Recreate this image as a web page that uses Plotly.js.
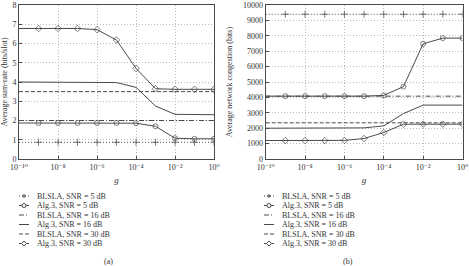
<!DOCTYPE html>
<html><head><meta charset="utf-8">
<script src="https://cdn.plot.ly/plotly-3.0.1.min.js"></script>
<style>html,body{margin:0;padding:0;background:#fff}</style>
</head><body><div id="chart" style="width:469px;height:266px"></div>
<script>
// ---- data ----
const g = [1e-10, 1e-9, 1e-8, 1e-7, 1e-6, 1e-5, 1e-4, 1e-3, 1e-2, 1e-1, 1e0];
const seriesNames = ['BLSLA, SNR = 5 dB', 'Alg.3, SNR = 5 dB', 'BLSLA, SNR = 16 dB',
                     'Alg.3, SNR = 16 dB', 'BLSLA, SNR = 30 dB', 'Alg.3, SNR = 30 dB'];
// (a) average sum-rate (bits/slot)
const rateBLSLA5  = [0.87, 0.87, 0.87, 0.87, 0.87, 0.87, 0.87, 0.87, 0.87, 0.87, 0.87];
const rateAlg5    = [1.87, 1.87, 1.87, 1.87, 1.87, 1.87, 1.86, 1.70, 1.08, 1.05, 1.05];
const rateBLSLA16 = [2.0, 2.0, 2.0, 2.0, 2.0, 2.0, 2.0, 2.0, 2.0, 2.0, 2.0];
const rateAlg16   = [4.0, 4.0, 4.0, 4.0, 4.0, 3.97, 3.72, 2.75, 2.32, 2.30, 2.30];
const rateBLSLA30 = [3.5, 3.5, 3.5, 3.5, 3.5, 3.5, 3.5, 3.5, 3.5, 3.5, 3.5];
const rateAlg30   = [6.78, 6.78, 6.78, 6.78, 6.72, 6.18, 4.71, 3.65, 3.62, 3.62, 3.62];
// (b) average network congestion (bits)
const congBLSLA5  = [9400, 9400, 9400, 9400, 9400, 9400, 9400, 9400, 9400, 9400, 9400];
const congAlg5    = [4080, 4080, 4080, 4080, 4080, 4080, 4130, 4700, 7480, 7850, 7850];
const congBLSLA16 = [4080, 4080, 4080, 4080, 4080, 4080, 4080, 4080, 4080, 4080, 4080];
const congAlg16   = [2000, 2000, 2000, 2000, 2000, 2020, 2150, 2950, 3500, 3500, 3500];
const congBLSLA30 = [2350, 2350, 2350, 2350, 2350, 2350, 2350, 2350, 2350, 2350, 2350];
const congAlg30   = [1200, 1200, 1200, 1200, 1210, 1330, 1720, 2260, 2260, 2260, 2260];
const xTickVals = [1e-10, 1e-8, 1e-6, 1e-4, 1e-2, 1e0];
const xTickText = ['10⁻¹⁰', '10⁻⁸', '10⁻⁶', '10⁻⁴', '10⁻²', '10⁰'];
const panelLabels = ['(a)', '(b)'];

// ---- styling ----
const W = 469, H = 266;
const FONT = 'Liberation Serif, DejaVu Serif, serif';
const LC = '#4a4a4a';
const GC = '#b8b8b8';
const styles = [
  {dash: '1px,2px', symbol: 'cross-thin-open', kind: 'cross'},
  {dash: 'solid', symbol: 'circle-open', kind: 'circle'},
  {dash: '5px,2px,1px,2px', symbol: null},
  {dash: 'solid', symbol: null},
  {dash: '4px,2px', symbol: null},
  {dash: 'solid', symbol: 'diamond-open', kind: 'diamond'}
];
const panels = [
  {xa: 'x', ya: 'y', data: [rateBLSLA5, rateAlg5, rateBLSLA16, rateAlg16, rateBLSLA30, rateAlg30]},
  {xa: 'x2', ya: 'y2', data: [congBLSLA5, congAlg5, congBLSLA16, congAlg16, congBLSLA30, congAlg30]}
];
const markerSizes = g.map((v, i) => i === 0 ? 0 : 5);

const traces = [];
panels.forEach(p => {
  p.data.forEach((ys, k) => {
    const s = styles[k];
    const t = {
      x: g, y: ys, xaxis: p.xa, yaxis: p.ya, name: seriesNames[k], showlegend: false,
      type: 'scatter', mode: s.symbol ? 'lines+markers' : 'lines',
      line: {color: LC, width: 1, dash: s.dash}
    };
    if (s.symbol) t.marker = {symbol: s.symbol, size: markerSizes, color: LC, line: {color: LC, width: 1}};
    traces.push(t);
  });
});

// manual compact legends (px positions)
const shapes = [], annotations = [];
const legendCfg = [{sx0: 19, sx1: 29, tx: 35}, {sx0: 264, sx1: 274, tx: 280}];
const rowY = [196, 205.5, 215, 224.5, 234, 243.5];
const px = v => v / W, py = v => 1 - v / H;
legendCfg.forEach(cfg => {
  seriesNames.forEach((nm, k) => {
    const s = styles[k], y = rowY[k];
    shapes.push({type: 'line', xref: 'paper', yref: 'paper', x0: px(cfg.sx0), x1: px(cfg.sx1), y0: py(y), y1: py(y),
                 line: {color: LC, width: 1, dash: s.dash}});
    const cx = (cfg.sx0 + cfg.sx1) / 2;
    if (s.kind === 'cross') {
      shapes.push({type: 'line', xref: 'paper', yref: 'paper', x0: px(cx - 2), x1: px(cx + 2), y0: py(y), y1: py(y), line: {color: LC, width: 1}});
      shapes.push({type: 'line', xref: 'paper', yref: 'paper', x0: px(cx), x1: px(cx), y0: py(y - 2), y1: py(y + 2), line: {color: LC, width: 1}});
    } else if (s.kind === 'circle') {
      shapes.push({type: 'circle', xref: 'paper', yref: 'paper', x0: px(cx - 2), x1: px(cx + 2), y0: py(y - 2), y1: py(y + 2), line: {color: LC, width: 1}, fillcolor: '#fff'});
    } else if (s.kind === 'diamond') {
      shapes.push({type: 'path', xref: 'paper', yref: 'paper',
        path: `M${px(cx - 2.5)},${py(y)} L${px(cx)},${py(y - 2.5)} L${px(cx + 2.5)},${py(y)} L${px(cx)},${py(y + 2.5)} Z`,
        line: {color: LC, width: 1}, fillcolor: '#fff'});
    }
    annotations.push({xref: 'paper', yref: 'paper', x: px(cfg.tx), y: py(y), xanchor: 'left', yanchor: 'middle',
      text: nm, showarrow: false, font: {family: FONT, size: 8, color: '#333'}});
  });
});
annotations.push({xref: 'paper', yref: 'paper', x: px(108), y: py(261), text: panelLabels[0], showarrow: false,
  xanchor: 'center', yanchor: 'middle', font: {family: FONT, size: 8, color: '#333'}});
annotations.push({xref: 'paper', yref: 'paper', x: px(348), y: py(261), text: panelLabels[1], showarrow: false,
  xanchor: 'center', yanchor: 'middle', font: {family: FONT, size: 8, color: '#333'}});

const axFont = {family: FONT, size: 8, color: '#333'};
const xaxisBase = {
  type: 'log', range: [-10, 0], tickvals: xTickVals, ticktext: xTickText,
  showline: true, mirror: true, linecolor: LC, linewidth: 1,
  ticks: 'inside', ticklen: 3, tickcolor: LC, tickfont: axFont,
  showgrid: true, gridcolor: GC, griddash: '1px,2px', gridwidth: 1, zeroline: false,
  title: {text: '<i>g</i>', font: {family: FONT, size: 9, color: '#333'}, standoff: 6}
};
const yaxisBase = {
  showline: true, mirror: true, linecolor: LC, linewidth: 1,
  ticks: 'inside', ticklen: 3, tickcolor: LC, tickfont: axFont,
  showgrid: true, gridcolor: GC, griddash: '1px,2px', gridwidth: 1, zeroline: false
};
const yTop = py(5), yBot = py(159);
const layout = {
  width: W, height: H, autosize: false, margin: {l: 0, r: 0, t: 0, b: 0},
  paper_bgcolor: '#fff', plot_bgcolor: '#fff', showlegend: false,
  font: {family: FONT, size: 8, color: '#333'},
  xaxis: Object.assign({}, xaxisBase, {domain: [px(19), px(214)], anchor: 'y'}),
  yaxis: Object.assign({}, yaxisBase, {domain: [yBot, yTop], range: [0, 8], dtick: 1, anchor: 'x',
    title: {text: 'Average sum-rate (bits/slot)', font: {family: FONT, size: 8, color: '#333'}, standoff: 6}}),
  xaxis2: Object.assign({}, xaxisBase, {domain: [px(265.7), px(462.5)], anchor: 'y2'}),
  yaxis2: Object.assign({}, yaxisBase, {domain: [yBot, yTop], range: [0, 10000], dtick: 1000, anchor: 'x2',
    tickformat: 'd', exponentformat: 'none',
    title: {text: 'Average network congestion (bits)', font: {family: FONT, size: 8, color: '#333'}, standoff: 9}}),
  shapes: shapes, annotations: annotations
};
Plotly.newPlot('chart', traces, layout, {staticPlot: true, displayModeBar: false});
</script></body></html>
